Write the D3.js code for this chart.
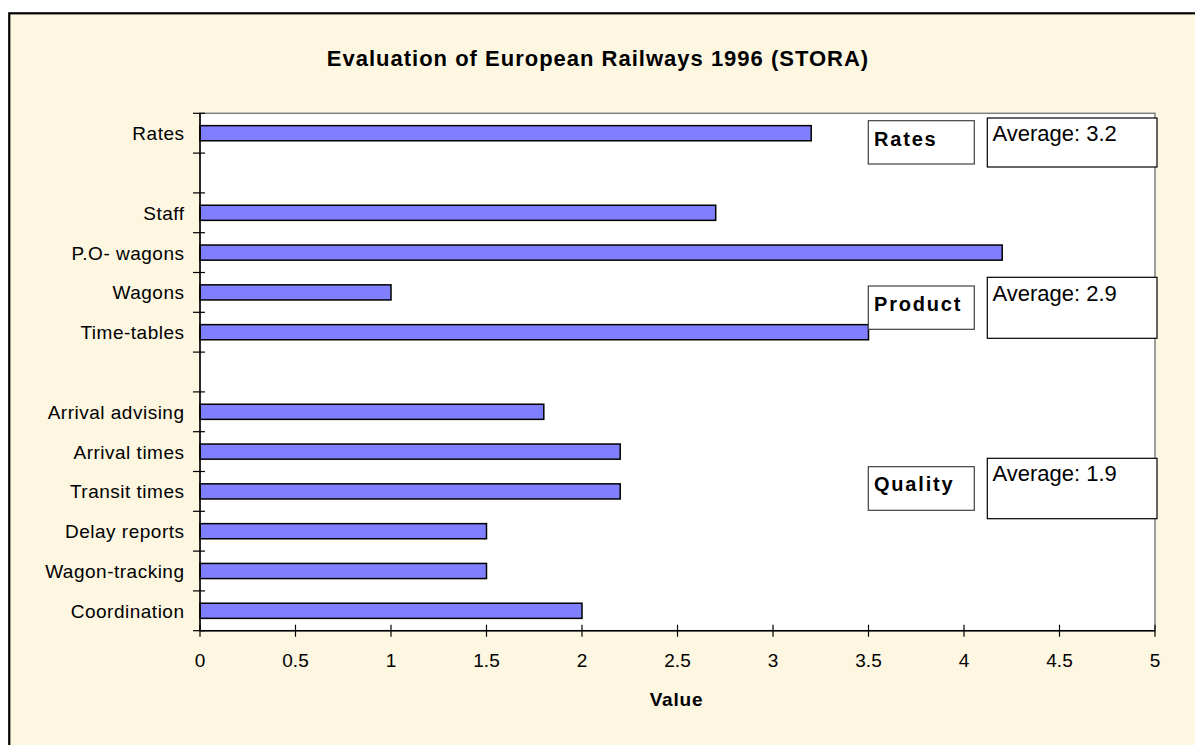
<!DOCTYPE html>
<html>
<head>
<meta charset="utf-8">
<script src="https://cdn.jsdelivr.net/npm/d3@7"></script>
<style>
  body { margin: 0; background: #ffffff; }
  svg { display: block; }
  text { font-family: Arial, "Liberation Sans", sans-serif; fill: #000; }
</style>
</head>
<body>
<svg id="chart" width="1195" height="745"></svg>
<script>
// Survey categories, top to bottom; empty strings are spacer rows between groups
const categories = ["Rates", "", "Staff", "P.O- wagons", "Wagons", "Time-tables", "",
  "Arrival advising", "Arrival times", "Transit times", "Delay reports", "Wagon-tracking", "Coordination"];
const values = [3.2, null, 2.7, 4.2, 1.0, 3.5, null, 1.8, 2.2, 2.2, 1.5, 1.5, 2.0];
const xTickValues = [0, 0.5, 1, 1.5, 2, 2.5, 3, 3.5, 4, 4.5, 5];
const groupNames = ["Rates", "Product", "Quality"];
const groupAverages = [3.2, 2.9, 1.9];

const svg = d3.select("#chart");
const W = 1195, H = 745;
const plot = { left: 200, right: 1155, top: 113.3, bottom: 630.7 };

// Chart background with frame
svg.append("rect")
  .attr("x", 9.25).attr("y", 13.3)
  .attr("width", W + 20).attr("height", H + 20)
  .attr("fill", "#FDF6E0").attr("stroke", "#000").attr("stroke-width", 2.2);

// Title
svg.append("text")
  .attr("x", 598).attr("y", 65.7)
  .attr("text-anchor", "middle")
  .style("font-size", "22px").style("font-weight", "bold").style("letter-spacing", "1px")
  .text("Evaluation of European Railways 1996 (STORA)");

const x = d3.scaleLinear().domain([0, 5]).range([plot.left, plot.right]);
const y = d3.scaleBand()
  .domain(d3.range(categories.length))
  .range([plot.top, plot.bottom])
  .paddingInner(0.62).paddingOuter(0.31);

// Plot area
svg.append("rect")
  .attr("x", plot.left).attr("y", plot.top)
  .attr("width", plot.right - plot.left).attr("height", plot.bottom - plot.top)
  .attr("fill", "#fff").attr("stroke", "#808080").attr("stroke-width", 1.5);

// Bars
svg.append("g").selectAll("rect")
  .data(values.map((v, i) => ({ v, i })).filter(d => d.v != null))
  .join("rect")
  .attr("x", x(0))
  .attr("y", d => y(d.i))
  .attr("width", d => x(d.v) - x(0))
  .attr("height", y.bandwidth())
  .attr("fill", "#8080FF").attr("stroke", "#000").attr("stroke-width", 1.5);

// Category axis: line, cross ticks between rows, labels at row centres
const gy = svg.append("g");
gy.append("line")
  .attr("x1", plot.left).attr("x2", plot.left)
  .attr("y1", plot.top).attr("y2", plot.bottom)
  .attr("stroke", "#000").attr("stroke-width", 1.5);
const boundaries = d3.range(categories.length + 1).map(i => plot.top + i * (plot.bottom - plot.top) / categories.length);
gy.selectAll("line.tick").data(boundaries).join("line")
  .attr("class", "tick")
  .attr("x1", plot.left - 7).attr("x2", plot.left + 5)
  .attr("y1", d => d).attr("y2", d => d)
  .attr("stroke", "#000").attr("stroke-width", 1.2);
gy.selectAll("text").data(categories.map((c, i) => ({ c, i })).filter(d => d.c !== ""))
  .join("text")
  .attr("x", 184.5)
  .attr("y", d => y(d.i) + y.bandwidth() / 2 + 7)
  .attr("text-anchor", "end")
  .style("font-size", "19px").style("letter-spacing", "0.5px")
  .text(d => d.c);

// Value axis
const gx = svg.append("g");
gx.append("line")
  .attr("x1", plot.left).attr("x2", plot.right)
  .attr("y1", plot.bottom).attr("y2", plot.bottom)
  .attr("stroke", "#000").attr("stroke-width", 1.5);
gx.selectAll("line.tick").data(xTickValues).join("line")
  .attr("class", "tick")
  .attr("x1", d => x(d)).attr("x2", d => x(d))
  .attr("y1", plot.bottom - 6).attr("y2", plot.bottom + 6)
  .attr("stroke", "#000").attr("stroke-width", 1.2);
gx.selectAll("text").data(xTickValues).join("text")
  .attr("x", d => x(d)).attr("y", 666.5)
  .attr("text-anchor", "middle")
  .style("font-size", "19px")
  .text(d => d3.format("~g")(d));

svg.append("text")
  .attr("x", 676.5).attr("y", 706)
  .attr("text-anchor", "middle")
  .style("font-size", "19px").style("font-weight", "bold").style("letter-spacing", "0.8px")
  .text("Value");

// Group annotation boxes: name box and average box for each group
const nameBoxes = [
  { y0: 120.7, y1: 164, base: 145.5 },
  { y0: 286, y1: 329.3, base: 310.5 },
  { y0: 466.7, y1: 510.3, base: 491 }
];
const avgBoxes = [
  { y0: 118, y1: 167, base: 140.7 },
  { y0: 277.3, y1: 338.3, base: 300.7 },
  { y0: 458.3, y1: 518.7, base: 480.7 }
];
const ann = svg.append("g");
groupNames.forEach((name, k) => {
  const nb = nameBoxes[k], ab = avgBoxes[k];
  ann.append("rect")
    .attr("x", 868.3).attr("y", nb.y0).attr("width", 106).attr("height", nb.y1 - nb.y0)
    .attr("fill", "#fff").attr("stroke", "#404040").attr("stroke-width", 1.2);
  ann.append("text")
    .attr("x", 874).attr("y", nb.base)
    .style("font-size", "20px").style("font-weight", "bold").style("letter-spacing", "1.8px")
    .text(name);
  ann.append("rect")
    .attr("x", 987.3).attr("y", ab.y0).attr("width", 169.7).attr("height", ab.y1 - ab.y0)
    .attr("fill", "#fff").attr("stroke", "#000").attr("stroke-width", 1.2);
  ann.append("text")
    .attr("x", 992.5).attr("y", ab.base)
    .style("font-size", "22px")
    .text("Average: " + groupAverages[k]);
});
</script>
</body>
</html>
